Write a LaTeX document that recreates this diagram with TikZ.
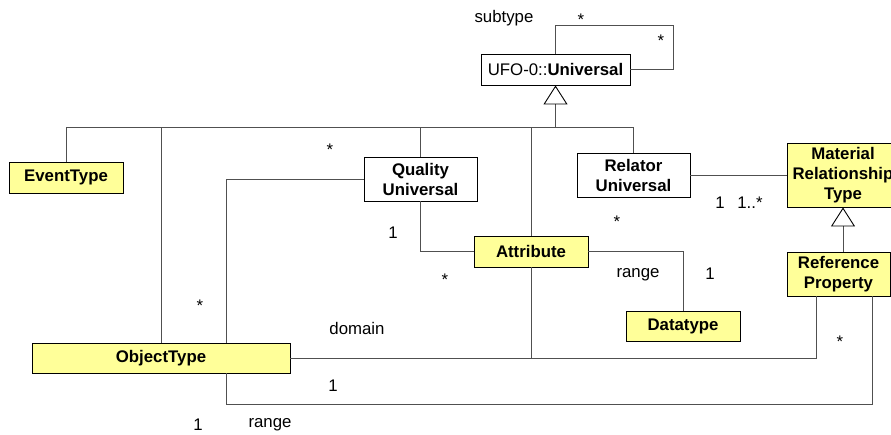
\documentclass[tikz,border=0pt]{standalone}
\usepackage{fontspec}
\setmainfont{Liberation Sans}
\usetikzlibrary{arrows.meta}
\definecolor{yellowbox}{HTML}{FFFF99}
\definecolor{linegray}{HTML}{505050}
\begin{document}
\begin{tikzpicture}[x=1pt,y=-1pt,
  box/.style={draw=black, line width=0.9pt, fill=white, inner sep=0pt, align=center,
    font=\fontsize{16.8}{20}\selectfont\bfseries},
  ybox/.style={box, fill=yellowbox},
  conn/.style={draw=linegray, line width=0.8pt},
  gen/.style={conn, -{Triangle[open, length=19pt, width=24pt, line width=0.9pt, color=black]}},
  lbl/.style={font=\fontsize{16.8}{20}\selectfont, inner sep=0pt},
  star/.style={lbl, yshift=-4pt},
]
\useasboundingbox (0,0) rectangle (891,434);
\clip (0,0) rectangle (891,434);

% boxes
\node[box, minimum width=149pt, minimum height=31pt] (uni) at (555.5,69.5)
  {\mdseries UFO-0::\bfseries Universal};
\node[ybox, minimum width=114pt, minimum height=31pt] (event) at (66,177.5) {EventType};
\node[box, minimum width=113pt, minimum height=44pt] (quality) at (420.5,179) {Quality\\Universal};
\node[box, minimum width=113pt, minimum height=44pt] (relator) at (633.5,175) {Relator\\Universal};
\node[ybox, minimum width=112pt, minimum height=64pt] (mrt) at (843,175) {Material\\Relationship\\Type};
\node[ybox, minimum width=103pt, minimum height=44pt] (refprop) at (838.5,274) {Reference\\Property};
\node[ybox, minimum width=114pt, minimum height=31pt] (attr) at (531,251.5) {Attribute};
\node[ybox, minimum width=114pt, minimum height=30pt] (datatype) at (683,326) {Datatype};
\node[ybox, minimum width=258pt, minimum height=30pt] (object) at (161,358) {ObjectType};

% helper coordinates
\coordinate (bar) at (0,127);
\coordinate (loop) at (673,25);
\coordinate (ox) at (226,0);
\coordinate (rpx) at (816,0);
\coordinate (rb) at (872,404);

% generalization tree
\draw[gen] (uni.south |- bar) -- (uni.south);
\draw[conn] (event.north) |- (relator.north |- bar) -- (relator.north);
\draw[conn] (object.north) -- (object.north |- bar);
\draw[conn] (quality.north) -- (quality.north |- bar);
\draw[conn] (attr.north) -- (attr.north |- bar);
\draw[gen] (mrt.south |- refprop.north) -- (mrt.south);

% associations
\draw[conn] (uni.north) |- (loop) |- (uni.east);
\draw[conn] (quality.west) -| (ox |- object.north);
\draw[conn] (quality.south) |- (attr.west);
\draw[conn] (attr.east) -| (datatype.north);
\draw[conn] (relator.east) -- (relator.east -| mrt.west);
\draw[conn] (object.east) -| (rpx |- refprop.south);
\draw[conn] (attr.south) -- (attr.south |- object.east);
\draw[conn] (ox |- object.south) |- (rb) -- (rb |- refprop.south);

% labels
\node[lbl] (t1) at (504,18) {subtype};
\node[star] (t2) at (581,16) {*};
\node[star] (t3) at (661,37) {*};
\node[star] (t4) at (330,146) {*};
\node[star] (t5) at (200,302) {*};
\node[lbl] (t6) at (393,233) {1};
\node[star] (t7) at (445,276) {*};
\node[star] (t8) at (617,218) {*};
\node[lbl] (t9) at (720,203) {1};
\node[lbl] (t10) at (750,203) {1..*};
\node[lbl] (t11) at (638,275) {range};
\node[lbl] (t12) at (710,274) {1};
\node[lbl] (t13) at (357,328) {domain};
\node[star] (t14) at (840,338) {*};
\node[lbl] (t15) at (333,386) {1};
\node[lbl] (t16) at (198,425) {1};
\node[lbl] (t17) at (270,425) {range};
\end{tikzpicture}
\end{document}
